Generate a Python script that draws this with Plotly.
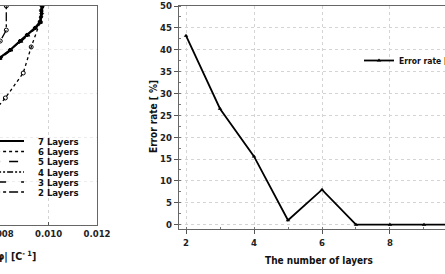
import plotly.graph_objects as go

W, H = 445, 274
FONT = "DejaVu Sans Condensed, Roboto, sans-serif"

# ---------------- Right chart data ----------------
layers = [2, 3, 4, 5, 6, 7, 8, 9, 10]
error_rate = [43.2, 26.5, 15.6, 1.0, 8.0, 0.0, 0.0, 0.0, 0.0]
right_xticks = [2, 4, 6, 8, 10]
right_yticks = [0, 5, 10, 15, 20, 25, 30, 35, 40, 45, 50]

# ---------------- Left chart data (partially visible) ----------------
left_names = ["7 Layers", "6 Layers", "5 Layers", "4 Layers", "3 Layers", "2 Layers"]
x7 = [0.00759, 0.00800, 0.00841, 0.00882, 0.00911, 0.00944, 0.00965, 0.00971, 0.00973]
y7 = [0.731, 0.763, 0.799, 0.840, 0.868, 0.900, 0.927, 0.965, 1.0]
x6 = [0.00779, 0.00821, 0.00895, 0.00928, 0.00965, 0.00973]
y6 = [0.525, 0.580, 0.694, 0.813, 0.927, 1.0]
x5 = [0.00759, 0.00800, 0.00845, 0.00886, 0.00915, 0.00946, 0.00967, 0.00969, 0.00970]
y5 = [0.728, 0.760, 0.798, 0.838, 0.866, 0.898, 0.925, 0.955, 0.985]
x4 = [0.00759, 0.00802, 0.00843, 0.00884, 0.00913, 0.00946, 0.00966, 0.00972, 0.00975]
y4 = [0.733, 0.765, 0.801, 0.842, 0.870, 0.902, 0.929, 0.975, 0.995]
x3 = [0.00759, 0.00801, 0.00842, 0.00883, 0.00912, 0.00945, 0.00966, 0.00968, 0.00969]
y3 = [0.730, 0.762, 0.800, 0.841, 0.869, 0.901, 0.928, 0.945, 0.975]
x2 = [0.00760, 0.00800, 0.00825, 0.00825]
y2 = [0.790, 0.840, 0.890, 1.0]
left_xticks = [0.008, 0.010, 0.012]
left_xticklabels = ["0.008", "0.010", "0.012"]
left_ygrid = [0.2, 0.4, 0.6, 0.8]

left_series = [(x7, y7), (x6, y6), (x5, y5), (x4, y4), (x3, y3), (x2, y2)]
left_dash = ["solid", "dot", "dash", "6px,2px,2px,2px,2px,2px", "longdash", "dashdot"]
left_width = [2.2, 1.3, 1.6, 1.3, 1.6, 1.3]
left_symbol = ["diamond", "circle-open", "triangle-up", "square", "triangle-down", "circle-open"]
left_msize = [3, 4, 3, 2, 3, 4]

fig = go.Figure()

for (xs, ys), name, dash, w, sym, ms in zip(left_series, left_names, left_dash,
                                             left_width, left_symbol, left_msize):
    fig.add_trace(go.Scatter(
        x=xs, y=ys, name=name, mode="lines+markers", xaxis="x", yaxis="y",
        line=dict(color="black", width=w, dash=dash),
        marker=dict(symbol=sym, size=ms, color="black", line=dict(color="black", width=1)),
        showlegend=False,
    ))

fig.add_trace(go.Scatter(
    x=layers, y=error_rate, name="Error rate [%]", mode="lines+markers",
    xaxis="x2", yaxis="y2",
    line=dict(color="black", width=1.8),
    marker=dict(symbol="triangle-up", size=4, color="black"),
    showlegend=True,
))

tickfont = dict(family=FONT, size=9.5, color="#222", weight="bold")
grid = dict(showgrid=True, gridcolor="#d4d4d4", gridwidth=1, griddash="dot")

# left-chart legend (compact, drawn manually)
legend_y = [141, 151.5, 161.5, 172, 182, 192]
shapes = []
annotations = []
for name, dash, w, py in zip(left_names, left_dash, left_width, legend_y):
    shapes.append(dict(type="line", xref="paper", yref="paper",
                       x0=-0.02, x1=24 / W, y0=1 - py / H, y1=1 - py / H,
                       line=dict(color="black", width=w, dash=dash)))
    annotations.append(dict(text=name, xref="paper", yref="paper",
                            x=36 / W, y=1 - py / H, xanchor="left", yanchor="middle",
                            showarrow=False,
                            font=dict(family=FONT, size=9.5, color="#111", weight="bold")))

annotations += [
    dict(text="Curvature |φ| [C<sup>- 1</sup>]", xref="paper", yref="paper",
         x=38 / W, y=1 - 256 / H, xanchor="right", yanchor="middle", showarrow=False,
         font=dict(family=FONT, size=10.5, color="#111", weight="bold")),
    dict(text="The number of layers", xref="paper", yref="paper",
         x=319 / W, y=1 - 260 / H, xanchor="center", yanchor="middle", showarrow=False,
         font=dict(family=FONT, size=10, color="#111", weight="bold")),
    dict(text="Error rate [ %]", xref="paper", yref="paper", textangle=-90,
         x=153 / W, y=1 - 117 / H, xanchor="center", yanchor="middle", showarrow=False,
         font=dict(family=FONT, size=10, color="#111", weight="bold")),
]

fig.update_layout(
    width=W, height=H,
    margin=dict(l=0, r=0, t=0, b=0, autoexpand=False),
    paper_bgcolor="white", plot_bgcolor="white",
    font=dict(family=FONT),
    xaxis=dict(domain=[0, 97 / W], range=[0.00799, 0.012], tickvals=left_xticks,
               ticktext=left_xticklabels, ticks="inside", ticklen=3, tickcolor="#555",
               ticklabeloverflow="allow",
               showline=True, linecolor="#666", linewidth=1, mirror=True,
               tickfont=tickfont, anchor="y", zeroline=False, automargin=False, **grid),
    yaxis=dict(domain=[1 - 225 / H, 1 - 6 / H], range=[0, 1], tickvals=left_ygrid,
               showticklabels=False, ticks="", side="right", showline=True,
               linecolor="#666", linewidth=1, mirror=False, anchor="x", zeroline=False,
               automargin=False, showgrid=True, gridcolor="#ececec", griddash="dot"),
    xaxis2=dict(domain=[179 / W, 1.0], range=[1.794, 9.618], tickvals=right_xticks,
                ticks="outside", ticklen=4, tickcolor="#555",
                showline=True, linecolor="#666", linewidth=1.2, mirror=True,
                tickfont=tickfont, anchor="y2", zeroline=False, automargin=False,
                minor=dict(dtick=1, ticks="inside", ticklen=2, tickcolor="#777"),
                **grid),
    yaxis2=dict(domain=[1 - 229 / H, 1 - 6 / H], range=[-1, 50], tickvals=right_yticks,
                ticks="outside", ticklen=4, tickcolor="#555",
                showline=True, linecolor="#666", linewidth=1.2, mirror=False,
                tickfont=tickfont, anchor="x2", zeroline=False, automargin=False,
                minor=dict(dtick=2.5, ticks="inside", ticklen=2, tickcolor="#777"),
                **grid),
    legend=dict(x=359 / W, y=1 - 46 / H, xanchor="left", yanchor="top",
                xref="paper", yref="paper",
                bgcolor="rgba(0,0,0,0)", borderwidth=0, itemwidth=30,
                font=dict(family=FONT, size=8.5, color="#111", weight="bold")),
    shapes=shapes,
    annotations=annotations,
)

fig.write_html("out.html")
